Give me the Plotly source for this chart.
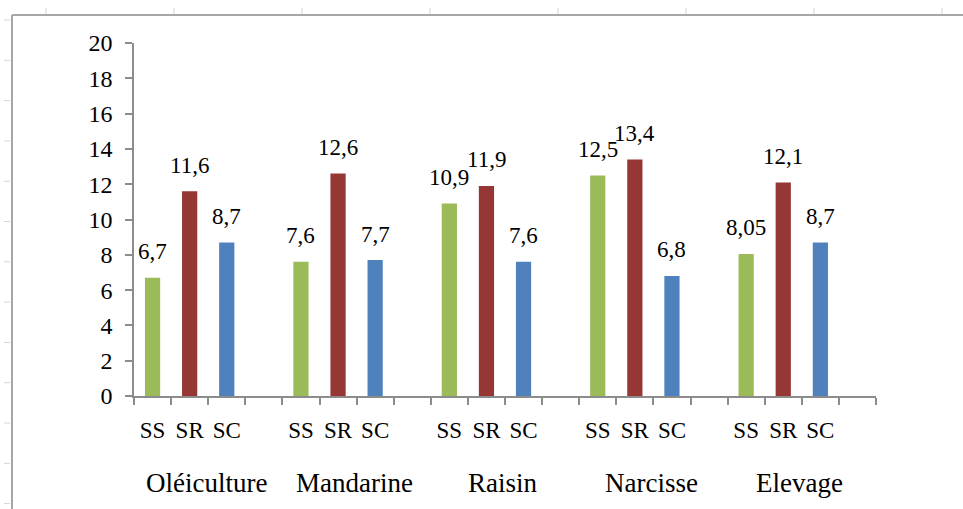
import plotly.graph_objects as go

# --- data -----------------------------------------------------------------
groups = ["Oléiculture", "Mandarine", "Raisin", "Narcisse", "Elevage"]
series = ["SS", "SR", "SC"]
ss_values = [6.7, 7.6, 10.9, 12.5, 8.05]
sr_values = [11.6, 12.6, 11.9, 13.4, 12.1]
sc_values = [8.7, 7.7, 7.6, 6.8, 8.7]
y_tick_values = [0, 2, 4, 6, 8, 10, 12, 14, 16, 18, 20]

# --- styling ----------------------------------------------------------------
colors = {"SS": "#9BBB59", "SR": "#953735", "SC": "#4F81BD"}
font_family = "Liberation Serif, Times New Roman, serif"
axis_gray = "#8C8C8C"
frame_gray = "#A6A6A6"

W, H = 963, 509
M_L, M_R, M_T, M_B = 134, 87, 43, 113
PLOT_W = W - M_L - M_R
PLOT_H = H - M_T - M_B

slots_per_group = len(series) + 1  # one empty slot after each group
n_slots = slots_per_group * len(groups)

values_by_series = {"SS": ss_values, "SR": sr_values, "SC": sc_values}


def fmt(v):
    return ("%g" % v).replace(".", ",")


fig = go.Figure()

annotations = []
tick_vals, tick_text = [], []
for k, name in enumerate(series):
    xs = [g * slots_per_group + k for g in range(len(groups))]
    ys = values_by_series[name]
    fig.add_trace(go.Bar(
        x=xs, y=ys, name=name, width=0.41,
        marker=dict(color=colors[name], line=dict(width=0)),
        showlegend=False, hoverinfo="skip",
    ))
    for x, y in zip(xs, ys):
        tick_vals.append(x)
        tick_text.append(name)
        annotations.append(dict(
            x=x, y=y, xref="x", yref="y", text=fmt(y), showarrow=False,
            yanchor="middle", yshift=26,
            font=dict(family=font_family, size=23, color="#000000"),
        ))

# group labels under the SS/SR/SC labels
for g, label in enumerate(groups):
    annotations.append(dict(
        x=g * slots_per_group + 1.45, y=-(483 - (H - M_B)) / PLOT_H,
        xref="x", yref="paper", text=label, showarrow=False,
        xanchor="center", yanchor="middle",
        font=dict(family=font_family, size=27, color="#000000"),
    ))


# --- sheet frame around the chart --------------------------------------------
def px_x(px):
    return (px - M_L) / PLOT_W


def px_y(py):
    return (H - M_B - py) / PLOT_H


shapes = [
    dict(type="line", xref="paper", yref="paper",
         x0=px_x(12), x1=px_x(W), y0=px_y(15), y1=px_y(15),
         line=dict(color=frame_gray, width=2)),
    dict(type="line", xref="paper", yref="paper",
         x0=px_x(12), x1=px_x(12), y0=px_y(15), y1=px_y(H),
         line=dict(color=frame_gray, width=2)),
]
col_px = 46
while col_px < W:
    shapes.append(dict(type="line", xref="paper", yref="paper",
                       x0=px_x(col_px), x1=px_x(col_px), y0=px_y(8), y1=px_y(14),
                       line=dict(color="#D4D4D4", width=1)))
    col_px += 128
row_px = 20
while row_px < H:
    shapes.append(dict(type="line", xref="paper", yref="paper",
                       x0=px_x(4), x1=px_x(10), y0=px_y(row_px), y1=px_y(row_px),
                       line=dict(color="#D4D4D4", width=1)))
    row_px += 40.3

fig.update_layout(
    width=W, height=H,
    margin=dict(l=M_L, r=M_R, t=M_T, b=M_B, pad=0),
    paper_bgcolor="#FFFFFF", plot_bgcolor="#FFFFFF",
    barmode="overlay",
    separators=", ",
    annotations=annotations,
    shapes=shapes,
    font=dict(family=font_family, color="#000000"),
)

fig.update_xaxes(
    range=[-0.5, n_slots - 0.5],
    tickmode="array", tickvals=tick_vals, ticktext=tick_text,
    ticks="", ticklabelstandoff=13,
    tickfont=dict(family=font_family, size=23, color="#000000"),
    showline=True, linecolor=axis_gray, linewidth=1.5,
    showgrid=False, zeroline=False,
    minor=dict(ticks="outside", tickmode="linear", tick0=-0.5, dtick=1,
               ticklen=7, tickcolor=axis_gray, tickwidth=1.5, showgrid=False),
)

fig.update_yaxes(
    range=[0, 20],
    tickmode="array", tickvals=y_tick_values,
    ticks="outside", ticklen=7, tickcolor=axis_gray, tickwidth=1.5,
    ticklabelstandoff=8,
    tickfont=dict(family=font_family, size=24, color="#000000"),
    showline=True, linecolor=axis_gray, linewidth=1.5,
    showgrid=False, zeroline=False,
)

fig.write_html("out.html")
